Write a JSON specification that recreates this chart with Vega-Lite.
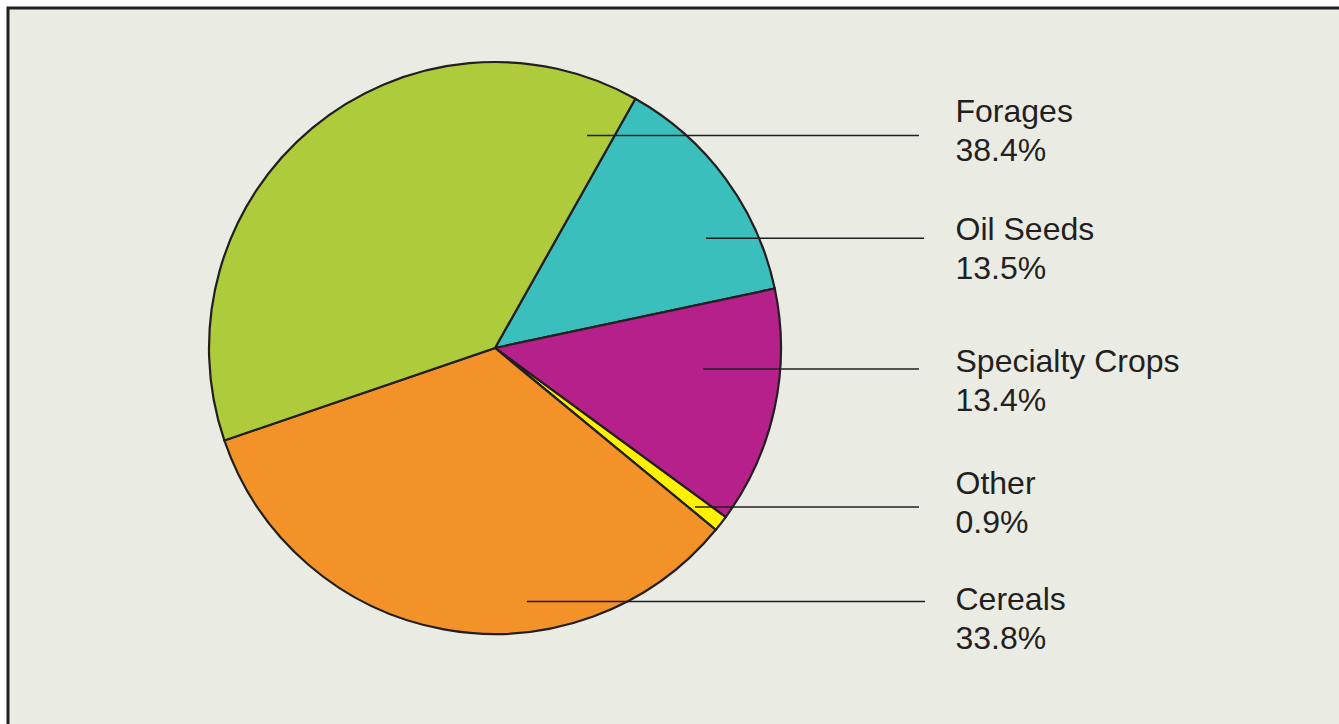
{
  "$schema": "https://vega.github.io/schema/vega-lite/v6.json",
  "autosize": "none",
  "width": 1334,
  "height": 720,
  "padding": {"left": 8, "top": 8, "right": -3, "bottom": -4},
  "background": "#ffffff",
  "config": {
    "view": {"fill": "#EAECE4", "stroke": "#231F20", "strokeWidth": 3},
    "font": "Liberation Sans"
  },
  "data": {
    "values": [
      {"category": "Oil Seeds", "share": 13.5, "ord": 1, "label": "Oil Seeds\n13.5%", "lineStart": 706, "lineEnd": 924, "lineY": 238.3, "labelY": 239.7},
      {"category": "Specialty Crops", "share": 13.4, "ord": 2, "label": "Specialty Crops\n13.4%", "lineStart": 703, "lineEnd": 919, "lineY": 369, "labelY": 371.7},
      {"category": "Other", "share": 0.9, "ord": 3, "label": "Other\n0.9%", "lineStart": 695, "lineEnd": 919, "lineY": 507, "labelY": 493.7},
      {"category": "Cereals", "share": 33.8, "ord": 4, "label": "Cereals\n33.8%", "lineStart": 527, "lineEnd": 925, "lineY": 601.5, "labelY": 609.7},
      {"category": "Forages", "share": 38.4, "ord": 5, "label": "Forages\n38.4%", "lineStart": 587, "lineEnd": 919, "lineY": 135.5, "labelY": 121.7}
    ]
  },
  "layer": [
    {
      "mark": {"type": "arc", "outerRadius": 286, "stroke": "#231F20", "strokeWidth": 2.2},
      "encoding": {
        "x": {"datum": 495, "type": "quantitative", "scale": {"domain": [8, 1342], "nice": false, "zero": false}, "axis": null},
        "y": {"datum": 348, "type": "quantitative", "scale": {"domain": [8, 728], "reverse": true, "nice": false, "zero": false}, "axis": null},
        "theta": {"field": "share", "type": "quantitative", "stack": true, "scale": {"range": [0.513, 6.796]}},
        "order": {"field": "ord", "type": "quantitative"},
        "color": {
          "field": "category",
          "type": "nominal",
          "scale": {
            "domain": ["Oil Seeds", "Specialty Crops", "Other", "Cereals", "Forages"],
            "range": ["#3BBFBC", "#B5208A", "#FFF100", "#F29229", "#ADCB3B"]
          },
          "legend": null
        }
      }
    },
    {
      "mark": {"type": "rule", "color": "#231F20", "strokeWidth": 1.4},
      "encoding": {
        "x": {"field": "lineStart", "type": "quantitative"},
        "x2": {"field": "lineEnd"},
        "y": {"field": "lineY", "type": "quantitative"}
      }
    },
    {
      "mark": {"type": "text", "align": "left", "baseline": "alphabetic", "lineBreak": "\n", "fontSize": 32, "lineHeight": 39, "color": "#231F20", "font": "Liberation Sans"},
      "encoding": {
        "x": {"datum": 955.5, "type": "quantitative"},
        "y": {"field": "labelY", "type": "quantitative"},
        "text": {"field": "label"}
      }
    }
  ]
}
